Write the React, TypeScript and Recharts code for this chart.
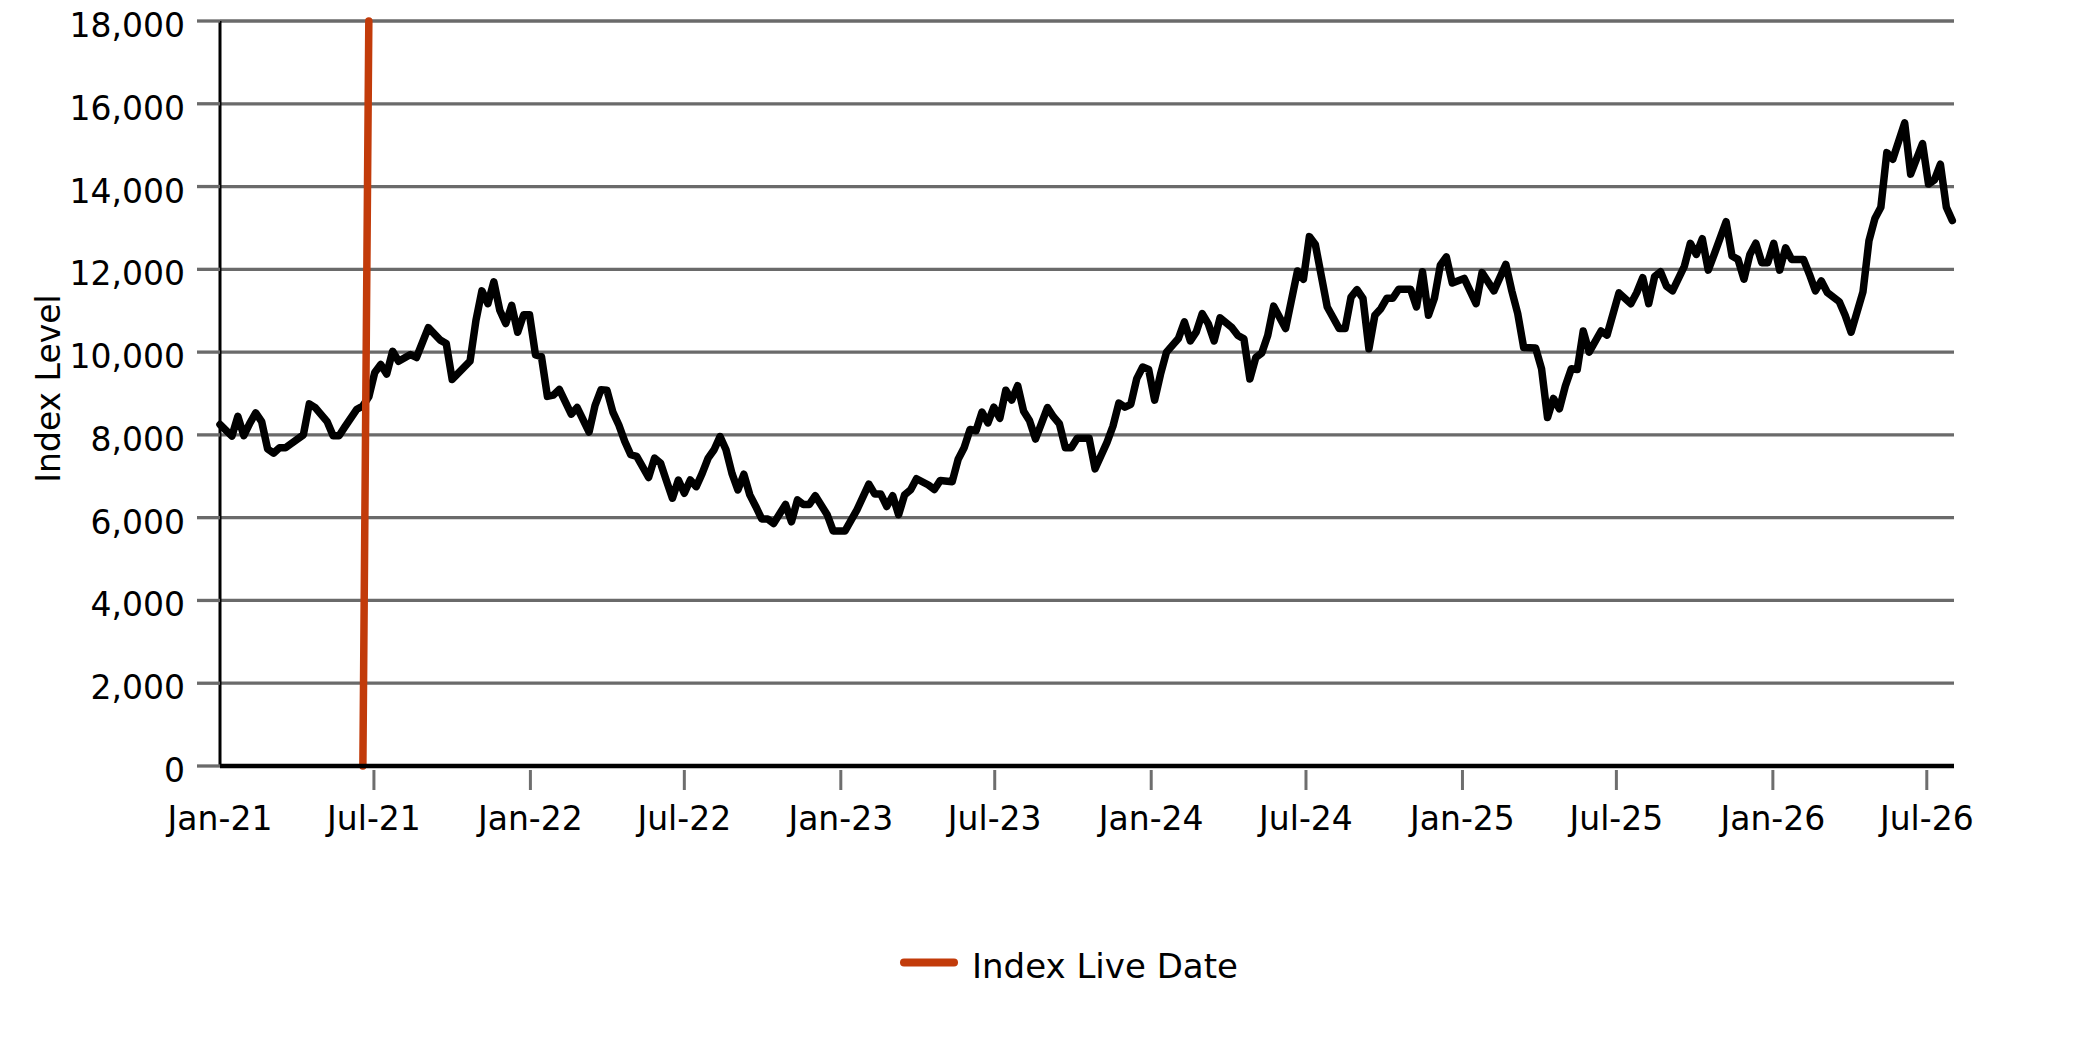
import { LineChart, Line, XAxis, YAxis, CartesianGrid, Legend } from "recharts";

const FONT = "'DejaVu Sans', sans-serif";

// weekly closes (Fridays)
const weekDates = [
  "2021-01-01", "2021-01-15", "2021-01-22", "2021-01-29", "2021-02-05", "2021-02-12", "2021-02-19", "2021-02-26",
  "2021-03-05", "2021-03-12", "2021-03-19", "2021-04-09", "2021-04-16", "2021-04-23", "2021-05-07", "2021-05-14",
  "2021-05-21", "2021-05-28", "2021-06-11", "2021-06-18", "2021-06-25", "2021-07-02", "2021-07-09", "2021-07-16",
  "2021-07-23", "2021-07-30", "2021-08-13", "2021-08-20", "2021-09-03", "2021-09-17", "2021-09-24", "2021-10-01",
  "2021-10-22", "2021-10-29", "2021-11-05", "2021-11-12", "2021-11-19", "2021-11-26", "2021-12-03", "2021-12-10",
  "2021-12-17", "2021-12-24", "2021-12-31",
  "2022-01-07", "2022-01-14", "2022-01-21", "2022-01-28", "2022-02-04", "2022-02-18", "2022-02-25", "2022-03-11",
  "2022-03-18", "2022-03-25", "2022-04-01", "2022-04-08", "2022-04-15", "2022-04-22", "2022-04-29", "2022-05-06",
  "2022-05-13", "2022-05-20", "2022-05-27", "2022-06-03", "2022-06-10", "2022-06-17", "2022-06-24", "2022-07-01",
  "2022-07-08", "2022-07-15", "2022-07-22", "2022-07-29", "2022-08-05", "2022-08-12", "2022-08-19", "2022-08-26",
  "2022-09-02", "2022-09-09", "2022-09-16", "2022-09-23", "2022-09-30", "2022-10-07", "2022-10-14", "2022-10-28",
  "2022-11-04", "2022-11-11", "2022-11-18", "2022-11-25", "2022-12-02", "2022-12-16", "2022-12-23",
  "2023-01-06", "2023-01-20", "2023-02-03", "2023-02-10", "2023-02-17", "2023-02-24", "2023-03-03", "2023-03-10",
  "2023-03-17", "2023-03-24", "2023-03-31", "2023-04-14", "2023-04-21", "2023-04-28", "2023-05-12", "2023-05-19",
  "2023-05-26", "2023-06-02", "2023-06-09", "2023-06-16", "2023-06-23", "2023-06-30", "2023-07-07", "2023-07-14",
  "2023-07-21", "2023-07-28", "2023-08-04", "2023-08-11", "2023-08-18", "2023-09-01", "2023-09-08", "2023-09-15",
  "2023-09-22", "2023-09-29", "2023-10-06", "2023-10-20", "2023-10-27", "2023-11-10", "2023-11-17", "2023-11-24",
  "2023-12-01", "2023-12-08", "2023-12-15", "2023-12-22", "2023-12-29",
  "2024-01-05", "2024-01-12", "2024-01-19", "2024-02-02", "2024-02-09", "2024-02-16", "2024-02-23", "2024-03-01",
  "2024-03-08", "2024-03-15", "2024-03-22", "2024-04-05", "2024-04-12", "2024-04-19", "2024-04-26", "2024-05-03",
  "2024-05-10", "2024-05-17", "2024-05-24", "2024-06-07", "2024-06-21", "2024-06-28", "2024-07-05", "2024-07-12",
  "2024-07-26", "2024-08-09", "2024-08-16", "2024-08-23", "2024-08-30", "2024-09-06", "2024-09-13", "2024-09-20",
  "2024-09-27", "2024-10-04", "2024-10-11", "2024-10-18", "2024-11-01", "2024-11-08", "2024-11-15", "2024-11-22",
  "2024-11-29", "2024-12-06", "2024-12-13", "2024-12-20",
  "2025-01-03", "2025-01-17", "2025-01-24", "2025-02-07", "2025-02-21", "2025-02-28", "2025-03-07", "2025-03-14",
  "2025-03-28", "2025-04-04", "2025-04-11", "2025-04-18", "2025-04-25", "2025-05-02", "2025-05-09", "2025-05-16",
  "2025-05-23", "2025-05-30", "2025-06-13", "2025-06-20", "2025-07-04", "2025-07-18", "2025-07-25", "2025-08-01",
  "2025-08-08", "2025-08-15", "2025-08-22", "2025-08-29", "2025-09-05", "2025-09-19", "2025-09-26", "2025-10-03",
  "2025-10-10", "2025-10-17", "2025-10-24", "2025-11-07", "2025-11-14", "2025-11-21", "2025-11-28", "2025-12-05",
  "2025-12-12", "2025-12-19", "2025-12-26",
  "2026-01-02", "2026-01-09", "2026-01-16", "2026-01-23", "2026-02-06", "2026-02-13", "2026-02-20", "2026-02-27",
  "2026-03-06", "2026-03-20", "2026-03-27", "2026-04-03", "2026-04-17", "2026-04-24", "2026-05-01", "2026-05-08",
  "2026-05-15", "2026-05-22", "2026-06-05", "2026-06-12", "2026-06-26", "2026-07-03", "2026-07-10", "2026-07-17",
  "2026-07-24", "2026-07-31",
];

const indexLevels = [
  8250, 7970, 8450, 7980, 8280, 8530, 8320, 7660,
  7560, 7690, 7690, 8000, 8750, 8660, 8320, 7980,
  7980, 8200, 8620, 8700, 8920, 9510, 9700, 9470,
  10020, 9780, 9940, 9870, 10590, 10290, 10210, 9340,
  9780, 10770, 11480, 11170, 11700, 11010, 10690, 11130,
  10480, 10900, 10900,
  9930, 9890, 8930, 8960, 9100, 8500, 8660, 8070,
  8710, 9090, 9080, 8550, 8240, 7840, 7520, 7480,
  7230, 6970, 7440, 7320, 6890, 6470, 6910, 6590,
  6910, 6750, 7070, 7440, 7640, 7960, 7640, 7070,
  6670, 7050, 6550, 6270, 5970, 5970, 5860, 6320,
  5900, 6430, 6320, 6320, 6530, 6070, 5680,
  5680, 6190, 6810, 6570, 6570, 6270, 6530, 6070,
  6550, 6670, 6940, 6790, 6680, 6900, 6870, 7410,
  7690, 8130, 8100, 8550, 8290, 8670, 8400, 9080,
  8840, 9190, 8570, 8340, 7900, 8660, 8440, 8270,
  7690, 7690, 7920, 7920, 7180, 7820, 8210, 8770,
  8670, 8740, 9360, 9640, 9580,
  8840, 9470, 10000, 10330, 10730, 10270, 10490, 10930,
  10690, 10270, 10830, 10590, 10400, 10320, 9350, 9870,
  9980, 10400, 11110, 10570, 11960, 11760, 12790, 12600,
  11090, 10570, 10570, 11330, 11510, 11300, 10080, 10890,
  11050, 11300, 11300, 11520, 11520, 11090, 11940, 10890,
  11300, 12100, 12300, 11670,
  11780, 11170, 11920, 11480, 12120, 11480, 10930, 10110,
  10100, 9600, 8420, 8880, 8630, 9180, 9600, 9580,
  10510, 10000, 10510, 10410, 11430, 11170, 11440, 11800,
  11170, 11830, 11940, 11590, 11480, 12080, 12630, 12360,
  12740, 11980, 12360, 13150, 12320, 12240, 11760, 12360,
  12630, 12160, 12160,
  12630, 11980, 12520, 12240, 12240, 11880, 11480, 11720,
  11440, 11220, 10890, 10480, 11460, 12690, 13230, 13500,
  14820, 14660, 15540, 14300, 15040, 14060, 14160, 14540,
  13500, 13180,
];

// live-date marker
const liveDates = ["2021-06-18", "2021-06-25"];
const liveLevels = [0, 18000];

const xTickDates = [
  "2021-01-01", "2021-07-01", "2022-01-01", "2022-07-01", "2023-01-01", "2023-07-01",
  "2024-01-01", "2024-07-01", "2025-01-01", "2025-07-01", "2026-01-01", "2026-07-01",
];
const xTickLabels = [
  "Jan-21", "Jul-21", "Jan-22", "Jul-22", "Jan-23", "Jul-23",
  "Jan-24", "Jul-24", "Jan-25", "Jul-25", "Jan-26", "Jul-26",
];
const yTicks = [0, 2000, 4000, 6000, 8000, 10000, 12000, 14000, 16000, 18000];

const toTime = (d: string) => Date.parse(d + "T00:00:00Z");

const indexData = weekDates.map((d, i) => ({ t: toTime(d), level: indexLevels[i] }));
const liveData = liveDates.map((d, i) => ({ t: toTime(d), level: liveLevels[i] }));
const xTicks = xTickDates.map(toTime);

function DateTick(props: any) {
  const { x, y, payload } = props;
  const i = xTicks.indexOf(payload.value);
  return (
    <g>
      {i > 0 && <line x1={x} x2={x} y1={y + 4} y2={y + 24} stroke="#6e6e6e" strokeWidth={3} />}
      <text x={x} y={y + 64} textAnchor="middle" fontSize={33} fontFamily={FONT} fill="#000">
        {xTickLabels[i]}
      </text>
    </g>
  );
}

function LevelTick(props: any) {
  const { x, y, payload } = props;
  return (
    <text x={x} y={y + 16} textAnchor="end" fontSize={33} fontFamily={FONT} fill="#000">
      {payload.value.toLocaleString("en-US")}
    </text>
  );
}

function LevelTitle(props: any) {
  const vb = props.viewBox || { x: 0, y: 21, height: 745 };
  const cx = vb.x + 60;
  const cy = vb.y + vb.height / 2 - 5;
  return (
    <text x={cx} y={cy} transform={`rotate(-90 ${cx} ${cy})`} textAnchor="middle" fontSize={33} fontFamily={FONT} fill="#000">
      Index Level
    </text>
  );
}

function LiveLegend(props: any) {
  const items = (props.payload || []).filter((p: any) => p.type !== "none");
  return (
    <svg width={1954} height={40} style={{ display: "block" }}>
      {items.map((p: any) => (
        <g key={p.value}>
          <line x1={904} x2={954} y1={17.5} y2={17.5} stroke={p.color} strokeWidth={8} strokeLinecap="round" />
          <text x={972} y={33} fontSize={34} fontFamily={FONT} fill="#000">{p.value}</text>
        </g>
      ))}
    </svg>
  );
}

export default function App() {
  return (
    <div style={{ position: "absolute", left: 0, top: 0, background: "#fff", fontFamily: FONT }}>
      <LineChart width={2083} height={1042} margin={{ top: 21, right: 129, bottom: 57, left: 0 }}>
        <CartesianGrid vertical={false} stroke="#6a6a6a" strokeWidth={3.3} />
        <XAxis
          type="number"
          dataKey="t"
          domain={[toTime("2021-01-01"), toTime("2026-08-02")]}
          ticks={xTicks}
          interval={0}
          height={179}
          tickSize={0}
          tickMargin={0}
          tickLine={false}
          axisLine={{ stroke: "#000", strokeWidth: 4.5 }}
          tick={<DateTick />}
        />
        <YAxis
          type="number"
          domain={[0, 18000]}
          ticks={yTicks}
          interval={0}
          width={220}
          tickSize={23}
          tickMargin={12}
          tickLine={{ stroke: "#6a6a6a", strokeWidth: 3.3 }}
          axisLine={{ stroke: "#000", strokeWidth: 3 }}
          tick={<LevelTick />}
          label={<LevelTitle />}
        />
        <Legend verticalAlign="bottom" align="left" content={<LiveLegend />} />
        <Line
          data={indexData}
          dataKey="level"
          type="linear"
          stroke="#000"
          strokeWidth={7.5}
          strokeLinejoin="round"
          strokeLinecap="round"
          dot={false}
          activeDot={false}
          legendType="none"
          isAnimationActive={false}
        />
        <Line
          data={liveData}
          dataKey="level"
          name="Index Live Date"
          type="linear"
          stroke="#c23b0a"
          strokeWidth={7.5}
          strokeLinecap="round"
          dot={false}
          activeDot={false}
          isAnimationActive={false}
        />
      </LineChart>
    </div>
  );
}
